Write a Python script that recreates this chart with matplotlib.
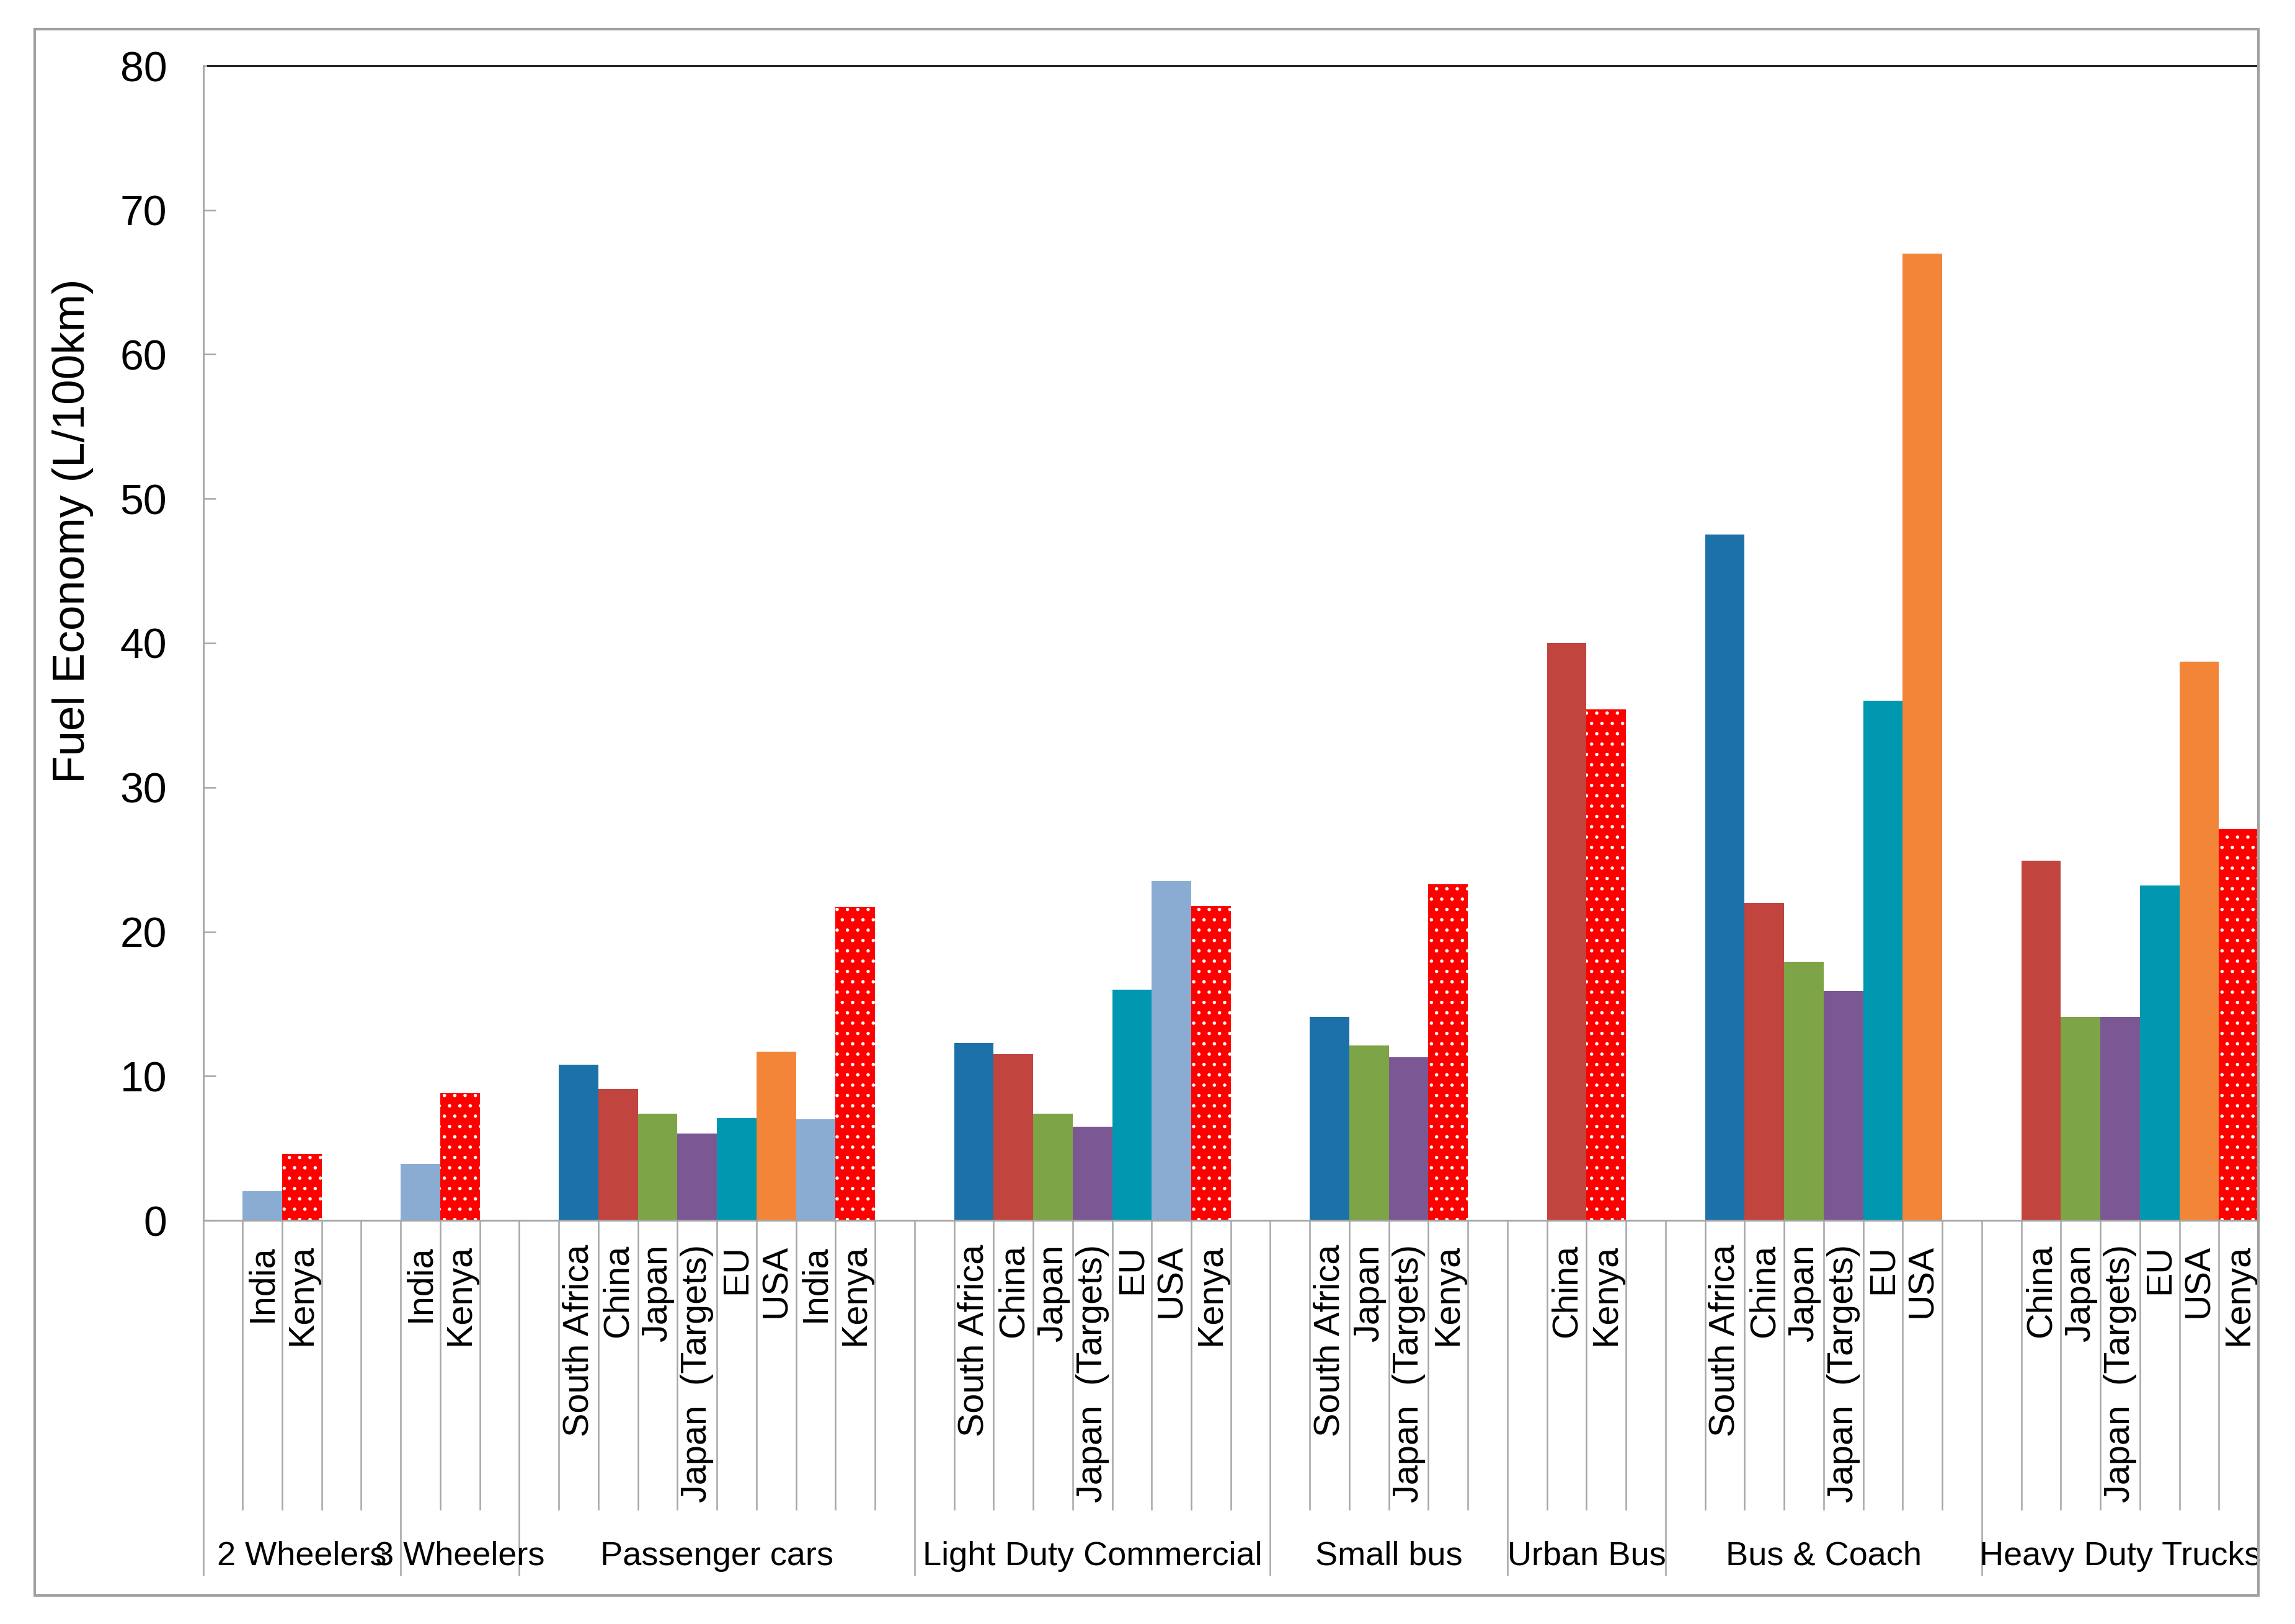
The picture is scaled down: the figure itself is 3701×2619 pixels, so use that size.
import matplotlib
matplotlib.use("Agg")
import matplotlib.pyplot as plt
from matplotlib.patches import Rectangle
from matplotlib.transforms import blended_transform_factory
from matplotlib.lines import Line2D

plt.rcParams['font.family'] = ['Liberation Sans', 'DejaVu Sans']
plt.rcParams['hatch.linewidth'] = 0.5

# ---------------- data ----------------
groups = ['2 Wheelers', '3 Wheelers', 'Passenger cars', 'Light Duty Commercial',
          'Small bus', 'Urban Bus', 'Bus & Coach', 'Heavy Duty Trucks']

countries_2w = ['India', 'Kenya']
values_2w = [2.0, 4.6]

countries_3w = ['India', 'Kenya']
values_3w = [3.9, 8.8]

countries_pc = ['South Africa', 'China', 'Japan', 'Japan  (Targets)', 'EU', 'USA', 'India', 'Kenya']
values_pc = [10.8, 9.1, 7.4, 6.0, 7.1, 11.7, 7.0, 21.7]

countries_ldc = ['South Africa', 'China', 'Japan', 'Japan  (Targets)', 'EU', 'USA', 'Kenya']
values_ldc = [12.3, 11.5, 7.4, 6.5, 16.0, 23.5, 21.8]

countries_sb = ['South Africa', 'Japan', 'Japan  (Targets)', 'Kenya']
values_sb = [14.1, 12.1, 11.3, 23.3]

countries_ub = ['China', 'Kenya']
values_ub = [40.0, 35.4]

countries_bc = ['South Africa', 'China', 'Japan', 'Japan  (Targets)', 'EU', 'USA']
values_bc = [47.5, 22.0, 17.9, 15.9, 36.0, 67.0]

countries_hdt = ['China', 'Japan', 'Japan  (Targets)', 'EU', 'USA', 'Kenya']
values_hdt = [24.9, 14.1, 14.1, 23.2, 38.7, 27.1]

y_ticks = [0, 10, 20, 30, 40, 50, 60, 70, 80]
y_label = 'Fuel Economy (L/100km)'

# ---------------- styling / layout ----------------
palette = {
    'South Africa': '#1D71A9',
    'China': '#C1443F',
    'Japan': '#7DA446',
    'Japan  (Targets)': '#7B5793',
    'EU': '#0098B1',
    'USA': '#F28537',
    'India': '#8AACD3',
    'Kenya': '#FF0000',
}
# colour key used for each bar (the LDC "USA" bar is drawn in the light-blue series colour)
colorkeys_ldc = ['South Africa', 'China', 'Japan', 'Japan  (Targets)', 'EU', 'India', 'Kenya']

lead = [1, 0, 1, 1, 1, 1, 1, 1]
trail = [2, 1, 1, 1, 1, 1, 1, 0]

group_countries = [countries_2w, countries_3w, countries_pc, countries_ldc,
                   countries_sb, countries_ub, countries_bc, countries_hdt]
group_values = [values_2w, values_3w, values_pc, values_ldc,
                values_sb, values_ub, values_bc, values_hdt]
group_colorkeys = [countries_2w, countries_3w, countries_pc, colorkeys_ldc,
                   countries_sb, countries_ub, countries_bc, countries_hdt]

W, H = 3701, 2619
DPI = 300
fig = plt.figure(figsize=(W / DPI, H / DPI), dpi=DPI)
fig.patch.set_facecolor('white')

# outer frame
fig.patches.append(Rectangle((56 / W, 1 - 2573 / H), (3642 - 56) / W, (2573 - 47) / H,
                             transform=fig.transFigure, fill=False,
                             edgecolor='#A0A0A0', linewidth=1.0, zorder=0))

ax_l, ax_r = 327.5 / W, 3642 / W
ax_b, ax_t = 1 - 1968 / H, 1 - 106 / H
ax = fig.add_axes([ax_l, ax_b, ax_r - ax_l, ax_t - ax_b])

gray = '#A6A6A6'
pos = 0
bounds = [0]
label_items = []
group_centers = []
for g, cs, vs, ks, l, t in zip(groups, group_countries, group_values, group_colorkeys, lead, trail):
    start = pos
    pos += l
    for c, v, k in zip(cs, vs, ks):
        xc = pos + 0.5
        if k == 'Kenya':
            ax.bar(xc, v, width=1.0, color=palette[k], edgecolor='white',
                   linewidth=0, hatch='...', zorder=2)
        else:
            ax.bar(xc, v, width=1.0, color=palette[k], linewidth=0, zorder=2)
        label_items.append((xc, c))
        pos += 1
    pos += t
    bounds.append(pos)
    group_centers.append(((start + pos) / 2, g))

n_slots = pos
ax.set_xlim(0, n_slots)
ax.set_ylim(0, 80)
ax.set_yticks(y_ticks)
ax.set_yticklabels([str(v) for v in y_ticks], fontsize=16.3)
ax.tick_params(axis='y', direction='in', length=4.8, width=0.6, color=gray, pad=14)
ax.set_xticks([])
ax.set_ylabel(y_label, fontsize=17.5)
ax.yaxis.set_label_coords(-0.0533, 0.597)

for s in ['left', 'bottom']:
    ax.spines[s].set_color(gray)
    ax.spines[s].set_linewidth(0.7)
ax.spines['right'].set_color('#A0A0A0')
ax.spines['right'].set_linewidth(1.0)
ax.spines['top'].set_visible(False)
ax.plot([0.12, n_slots], [80, 80], color='#202020', linewidth=0.7,
        clip_on=False, zorder=3)

trans = blended_transform_factory(ax.transData, ax.transAxes)
short_end = -0.2503
long_end = -0.3072
for i in range(1, n_slots):
    if i in bounds:
        continue
    ax.add_line(Line2D([i, i], [0, short_end], transform=trans, color=gray,
                       linewidth=0.6, clip_on=False))
for b in bounds[:-1]:
    ax.add_line(Line2D([b, b], [0, long_end], transform=trans, color=gray,
                       linewidth=0.6, clip_on=False))

for xc, c in label_items:
    ax.text(xc, -0.021, c, transform=trans, rotation=90, ha='center', va='top',
            fontsize=13.8, color='black')

for xc, g in group_centers:
    ax.text(xc, -0.2986, g, transform=trans, ha='center', va='baseline',
            fontsize=13, color='black')

fig.savefig('out.png', dpi=DPI, facecolor='white')
